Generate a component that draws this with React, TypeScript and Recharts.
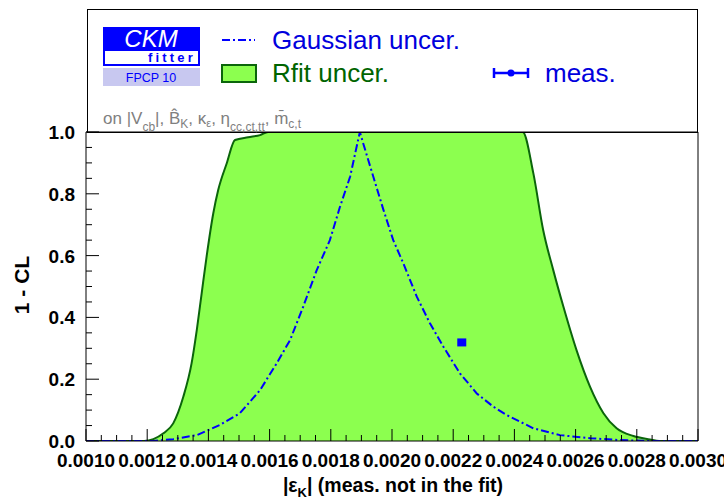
import React from 'react';
import { ComposedChart, Area, Line, Scatter, XAxis, YAxis } from 'recharts';

// Rfit (green band) 1-CL curve
const rfitX = [0.001, 0.00119, 0.00122, 0.001253, 0.001285, 0.001318, 0.001345, 0.001362, 0.001378, 0.001394, 0.001416, 0.001432, 0.00146, 0.001487, 0.00153, 0.001569, 0.001595, 0.002, 0.002427, 0.002462, 0.002494, 0.002527, 0.00256, 0.002603, 0.002647, 0.002691, 0.002734, 0.002789, 0.002843, 0.002873, 0.003];
const rfitY = [0, 0, 0.006, 0.025, 0.057, 0.143, 0.251, 0.359, 0.478, 0.596, 0.737, 0.812, 0.899, 0.974, 0.983, 0.99, 1.0, 1.0, 1.0, 0.866, 0.683, 0.553, 0.435, 0.294, 0.176, 0.09, 0.041, 0.016, 0.005, 0, 0];

// Gaussian 1-CL curve (dash-dot)
const gaussX = [0.001, 0.00122, 0.001285, 0.001362, 0.001438, 0.001503, 0.001536, 0.001569, 0.001623, 0.001667, 0.00171, 0.001754, 0.001797, 0.00183, 0.001863, 0.001895, 0.001906, 0.001939, 0.001972, 0.002004, 0.002037, 0.002081, 0.002124, 0.002168, 0.002222, 0.002277, 0.002331, 0.002375, 0.002462, 0.002549, 0.002647, 0.002745, 0.002843, 0.003];
const gaussY = [0, 0, 0.006, 0.019, 0.052, 0.09, 0.127, 0.165, 0.251, 0.327, 0.435, 0.553, 0.65, 0.758, 0.855, 1.0, 0.963, 0.855, 0.748, 0.65, 0.575, 0.467, 0.381, 0.305, 0.219, 0.154, 0.111, 0.084, 0.041, 0.019, 0.009, 0.003, 0, 0];

// measurement
const measX = [0.002228];
const measY = [0.319];

const xTicks = Array.from({ length: 41 }, (_, i) => 0.001 + i * 0.00005);
const yTicks = Array.from({ length: 21 }, (_, i) => i * 0.05);

const FONT = '"Liberation Sans", Arial, Helvetica, sans-serif';
const FILL = '#8cff4f';
const EDGE = '#0b650b';
const BLUE = '#0000ff';

const rfitData = rfitX.map((x, i) => ({ x, y: rfitY[i] }));
const gaussData = gaussX.map((x, i) => ({ x, y: gaussY[i] }));
const measData = measX.map((x, i) => ({ x, y: measY[i] }));

const isMajorX = (v: number) => Math.round((v - 0.001) / 0.00005) % 4 === 0;
const isMajorY = (v: number) => Math.round(v / 0.05) % 4 === 0;

const BottomTick = ({ x, y, payload }: any) => {
  const major = isMajorX(payload.value);
  return (
    <g>
      <line x1={x} x2={x} y1={y} y2={y - (major ? 12 : 6)} stroke="#000" />
      {major && (
        <text x={x} y={y + 26} textAnchor="middle" fontFamily={FONT} fontWeight="bold" fontSize={19} fill="#000">
          {payload.value.toFixed(4)}
        </text>
      )}
    </g>
  );
};

const TopTick = ({ x, y, payload }: any) => {
  const major = isMajorX(payload.value);
  return <line x1={x} x2={x} y1={y} y2={y + (major ? 12 : 6)} stroke="#000" />;
};

const LeftTick = ({ x, y, payload }: any) => {
  const major = isMajorY(payload.value);
  return (
    <g>
      <line x1={x} x2={x + (major ? 13 : 6)} y1={y} y2={y} stroke="#000" />
      {major && (
        <text x={x - 11} y={y + 7} textAnchor="end" fontFamily={FONT} fontWeight="bold" fontSize={19} fill="#000">
          {payload.value.toFixed(1)}
        </text>
      )}
    </g>
  );
};

const RightTick = ({ x, y, payload }: any) => {
  const major = isMajorY(payload.value);
  return <line x1={x} x2={x - (major ? 13 : 6)} y1={y} y2={y} stroke="#000" />;
};

const MeasMarker = ({ cx, cy }: any) => (
  <g>
    <rect x={cx - 4.5} y={cy - 4} width={9} height={8} fill={BLUE} />
  </g>
);

function Overlay() {
  return (
    <svg width={724} height={499} style={{ position: 'absolute', left: 0, top: 0, pointerEvents: 'none' }}>
      <rect x={87.5} y={9.5} width={610} height={123} fill="none" stroke="#000" />

      {/* CKMfitter logo */}
      <rect x={103} y={27} width={97} height={23} fill={BLUE} />
      <text x={151} y={47} textAnchor="middle" fontFamily={FONT} fontStyle="italic" fontSize={24} fill="#fff">CKM</text>
      <rect x={104} y={50} width={95} height={15} fill="#fff" stroke={BLUE} strokeWidth={2} />
      <text x={196} y={62} textAnchor="end" fontFamily={FONT} fontWeight="bold" fontSize={13} letterSpacing={3.2} fill={BLUE}>fitter</text>
      <rect x={103} y={68} width={97} height={18} fill="#c8c8f0" />
      <text x={151} y={82} textAnchor="middle" fontFamily={FONT} fontSize={12.5} fill={BLUE}>FPCP 10</text>

      {/* legend */}
      <line x1={222} x2={255} y1={40} y2={40} stroke={BLUE} strokeWidth={2} strokeDasharray="8 3 2 3" />
      <text x={272} y={49} fontFamily={FONT} fontSize={26} fill="#0000dd">Gaussian uncer.</text>
      <rect x={222} y={65} width={34} height={17} fill={FILL} stroke={EDGE} strokeWidth={2} />
      <text x={272} y={82} fontFamily={FONT} fontSize={26} fill="#006400">Rfit uncer.</text>
      <line x1={494} x2={528} y1={73} y2={73} stroke={BLUE} strokeWidth={2.5} />
      <line x1={494} x2={494} y1={68} y2={78} stroke={BLUE} strokeWidth={2.5} />
      <line x1={528} x2={528} y1={68} y2={78} stroke={BLUE} strokeWidth={2.5} />
      <circle cx={511} cy={73} r={3.5} fill={BLUE} />
      <text x={545} y={82} fontFamily={FONT} fontSize={26} fill="#0000dd">meas.</text>

      {/* fit inputs */}
      <text x={103} y={124} fontFamily={FONT} fontSize={17} fill="#808080">
        <tspan>on |V</tspan>
        <tspan fontSize={12} dy={7}>cb</tspan>
        <tspan dy={-7}>|, B̂</tspan>
        <tspan fontSize={12} dy={4}>K</tspan>
        <tspan dy={-4}>, κ</tspan>
        <tspan fontSize={11} dy={3}>ε</tspan>
        <tspan dy={-3}>, η</tspan>
        <tspan fontSize={12} dy={7}>cc,ct,tt</tspan>
        <tspan dy={-7}>, m̄</tspan>
        <tspan fontSize={12} dy={4}>c,t</tspan>
      </text>

      {/* axis titles */}
      <text x={0} y={0} transform="translate(29,285) rotate(-90)" textAnchor="middle" fontFamily={FONT} fontWeight="bold" fontSize={21} fill="#000">1 - CL</text>
      <text x={393} y={492} textAnchor="middle" fontFamily={FONT} fontWeight="bold" fontSize={19.5} fill="#000">
        <tspan>|ε</tspan>
        <tspan fontSize={13} dy={5}>K</tspan>
        <tspan dy={-5}>| (meas. not in the fit)</tspan>
      </text>
    </svg>
  );
}

export default function App() {
  return (
    <div style={{ position: 'absolute', left: 0, top: 0, width: 724, height: 499, background: '#fff' }}>
      <ComposedChart width={724} height={499} margin={{ top: 131, right: 25, bottom: 57, left: 85 }}>
        <XAxis
          xAxisId={0}
          dataKey="x"
          type="number"
          domain={[0.001, 0.003]}
          ticks={xTicks}
          interval={0}
          height={1}
          tickSize={0}
          tickMargin={0}
          tickLine={false}
          axisLine={{ stroke: '#000' }}
          tick={BottomTick}
          allowDataOverflow
        />
        <XAxis
          xAxisId="top"
          orientation="top"
          type="number"
          domain={[0.001, 0.003]}
          ticks={xTicks}
          interval={0}
          height={1}
          tickSize={0}
          tickMargin={0}
          tickLine={false}
          axisLine={{ stroke: '#000' }}
          tick={TopTick}
        />
        <YAxis
          yAxisId={0}
          type="number"
          domain={[0, 1]}
          ticks={yTicks}
          interval={0}
          width={1}
          tickSize={0}
          tickMargin={0}
          tickLine={false}
          axisLine={{ stroke: '#000' }}
          tick={LeftTick}
          allowDataOverflow
        />
        <YAxis
          yAxisId="right"
          orientation="right"
          type="number"
          domain={[0, 1]}
          ticks={yTicks}
          interval={0}
          width={1}
          tickSize={0}
          tickMargin={0}
          tickLine={false}
          axisLine={{ stroke: '#000' }}
          tick={RightTick}
        />
        <Area
          data={rfitData}
          dataKey="y"
          type="monotone"
          fill={FILL}
          fillOpacity={1}
          stroke={EDGE}
          strokeWidth={2}
          isAnimationActive={false}
        />
        <Line
          data={gaussData}
          dataKey="y"
          type="linear"
          stroke={BLUE}
          strokeWidth={2}
          strokeDasharray="8 3 2 3"
          dot={false}
          isAnimationActive={false}
        />
        <Scatter data={measData} dataKey="y" fill={BLUE} shape={MeasMarker} isAnimationActive={false} />
      </ComposedChart>
      <Overlay />
    </div>
  );
}
